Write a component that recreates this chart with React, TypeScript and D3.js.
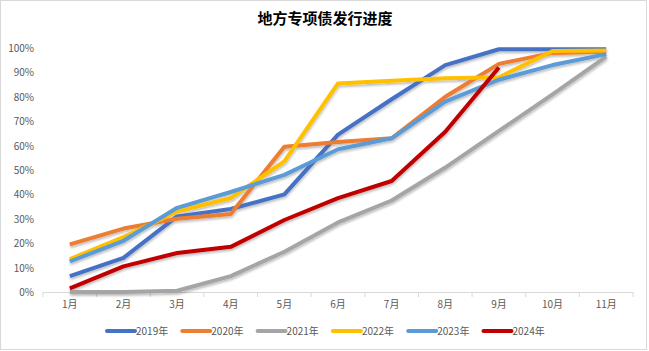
import React from 'react';
import * as d3 from 'd3';

const months = ['1月', '2月', '3月', '4月', '5月', '6月', '7月', '8月', '9月', '10月', '11月'];
const yTicks = [0, 0.1, 0.2, 0.3, 0.4, 0.5, 0.6, 0.7, 0.8, 0.9, 1];

const s2019 = [0.065, 0.14, 0.31, 0.34, 0.40, 0.645, 0.79, 0.93, 0.995, 0.995, 0.995];
const s2020 = [0.195, 0.26, 0.30, 0.32, 0.595, 0.615, 0.63, 0.80, 0.935, 0.98, 0.985];
const s2021 = [0, 0, 0.005, 0.065, 0.165, 0.285, 0.375, 0.51, 0.66, 0.81, 0.965];
const s2022 = [0.135, 0.225, 0.33, 0.385, 0.535, 0.855, 0.866, 0.876, 0.88, 0.988, 0.99];
const s2023 = [0.125, 0.21, 0.345, 0.41, 0.48, 0.585, 0.63, 0.78, 0.87, 0.93, 0.975];
const s2024 = [0.015, 0.105, 0.16, 0.185, 0.295, 0.385, 0.455, 0.657, 0.92];

const seriesNames = ['2019年', '2020年', '2021年', '2022年', '2023年', '2024年'];
const seriesColors = ['#4472C4', '#ED7D31', '#A5A5A5', '#FFC000', '#5B9BD5', '#C00000'];
const seriesData = [s2019, s2020, s2021, s2022, s2023, s2024];

const W = 649;
const H = 351;
const left = 43;
const right = 633;
const top = 48;
const bottom = 292;

export default function App() {
  const x = d3.scaleBand<string>().domain(months).range([left, right]);
  const y = d3.scaleLinear().domain([0, 1]).range([bottom, top]);
  const line = d3
    .line<number>()
    .x((_, i) => (x(months[i]) as number) + x.bandwidth() / 2)
    .y((d) => y(d));
  const font = '"Microsoft YaHei", "Noto Sans CJK SC", "DejaVu Sans", sans-serif';

  return (
    <svg width={W} height={H} style={{ position: 'absolute', left: 0, top: 0 }} fontFamily={font}>
      <defs>
        <filter id="shadow" x="-10%" y="-10%" width="120%" height="130%">
          <feDropShadow dx="0.5" dy="2" stdDeviation="1.2" floodColor="#000" floodOpacity="0.25" />
        </filter>
      </defs>
      <rect x={0.5} y={0.5} width={W - 3} height={H - 2} fill="#fff" stroke="#d9d9d9" />
      <text x={325} y={24} textAnchor="middle" fontSize={15} fontWeight="bold" fill="#000">
        地方专项债发行进度
      </text>

      {yTicks.map((t) => (
        <text key={t} x={34} y={y(t) + 4} textAnchor="end" fontSize={10} fill="#595959">
          {d3.format('.0%')(t)}
        </text>
      ))}

      <line x1={left} x2={right} y1={bottom + 0.5} y2={bottom + 0.5} stroke="#d9d9d9" />
      {months.concat(['']).map((m, i) => {
        const xx = left + i * x.step();
        return <line key={i} x1={xx} x2={xx} y1={bottom} y2={bottom + 5} stroke="#d9d9d9" />;
      })}
      {months.map((m) => (
        <text
          key={m}
          x={(x(m) as number) + x.bandwidth() / 2}
          y={308}
          textAnchor="middle"
          fontSize={10}
          fill="#595959"
        >
          {m}
        </text>
      ))}

      <g filter="url(#shadow)">
        {seriesData.map((s, i) => (
          <path
            key={seriesNames[i]}
            d={line(s) as string}
            fill="none"
            stroke={seriesColors[i]}
            strokeWidth={4}
            strokeLinejoin="round"
          />
        ))}
      </g>

      {seriesNames.map((n, i) => {
        const lx = 107 + i * 75.3;
        return (
          <g key={n}>
            <line x1={lx} x2={lx + 28} y1={331} y2={331} stroke={seriesColors[i]} strokeWidth={4} strokeLinecap="round" />
            <text x={lx + 29} y={335} fontSize={10} fill="#595959">
              {n}
            </text>
          </g>
        );
      })}
    </svg>
  );
}
